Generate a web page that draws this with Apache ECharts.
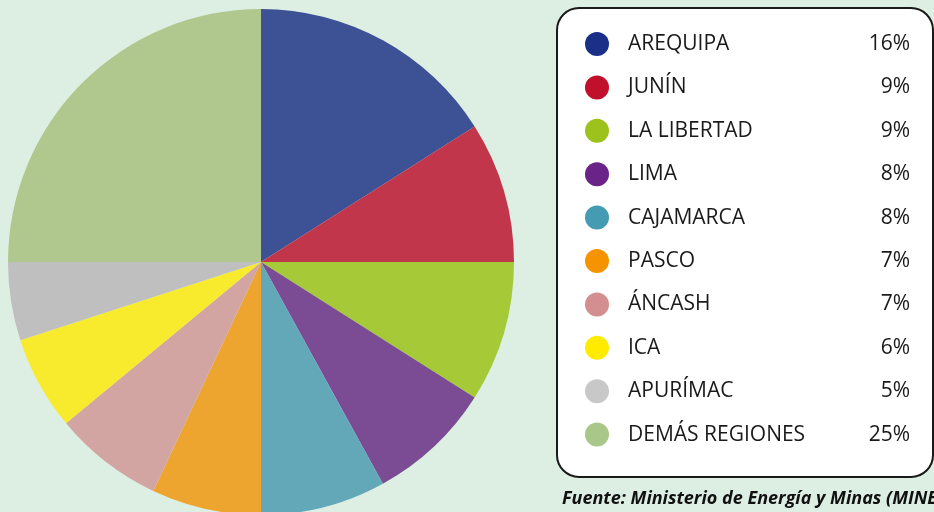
<!DOCTYPE html>
<html>
<head>
<meta charset="utf-8">
<script src="https://cdn.jsdelivr.net/npm/echarts@6/dist/echarts.min.js"></script>
<style>
	html, body { margin: 0; padding: 0; background: #ddeee3; }
	#chart { width: 934px; height: 512px; }
</style>
</head>
<body>
<div id="chart"></div>
<script>
	// regiones y participación (%)
	const regions = ["AREQUIPA", "JUNÍN", "LA LIBERTAD", "LIMA", "CAJAMARCA", "PASCO", "ÁNCASH", "ICA", "APURÍMAC", "DEMÁS REGIONES"];
	const shares = [16, 9, 9, 8, 8, 7, 7, 6, 5, 25];
	// colores de la torta y de los puntos de la leyenda
	const sliceColors = ["#3d5195", "#c1364b", "#a6c937", "#7b4b94", "#62a8b9", "#eea52f", "#d3a5a2", "#f8ea2d", "#bfbfbf", "#b0c78e"];
	const dotColors = ["#1a2f87", "#c0102c", "#9cc21b", "#6a2386", "#459bb2", "#f59300", "#d38f90", "#ffeb00", "#c8c8c8", "#aac78a"];
	const source = "Fuente: Ministerio de Energía y Minas (MINEM)";

	const chart = echarts.init(document.getElementById("chart"));

	const pieData = regions.map((name, i) => ({
		name: name,
		value: shares[i],
		itemStyle: { color: sliceColors[i] },
	}));

	const legendData = regions.map((name, i) => ({
		name: name,
		icon: "circle",
		itemStyle: { color: dotColors[i] },
	}));

	const pctByName = {};
	regions.forEach((name, i) => { pctByName[name] = shares[i]; });

	chart.setOption({
		backgroundColor: "#ddeee3",
		animation: false,
		graphic: [
			{
				type: "rect",
				z: 0,
				shape: { x: 557, y: 8, width: 376, height: 469, r: 22 },
				style: { fill: "#ffffff", stroke: "#1a1a1a", lineWidth: 2 },
			},
			{
				type: "text",
				z: 5,
				left: 562,
				top: 490,
				style: {
					text: source,
					fill: "#111111",
					font: "italic bold 18px 'Open Sans'",
				},
			},
		],
		legend: {
			orient: "vertical",
			left: 580,
			top: 27,
			itemWidth: 24,
			itemHeight: 24,
			itemGap: 19.4,
			selectedMode: false,
			data: legendData,
			formatter: (name) => `{n|${name}}{p|${pctByName[name]}%}`,
			textStyle: {
				rich: {
					n: { fontFamily: "Open Sans", fontSize: 21, color: "#1a1a1a", width: 238, lineHeight: 24, padding: [0, 0, 0, 14] },
					p: { fontFamily: "Open Sans", fontSize: 21, color: "#1a1a1a", width: 44, align: "right", lineHeight: 24 },
				},
			},
		},
		series: [
			{
				type: "pie",
				center: [261, 262],
				radius: 253,
				startAngle: 90,
				clockwise: true,
				label: { show: false },
				labelLine: { show: false },
				emphasis: { disabled: true },
				data: pieData,
			},
		],
	});
</script>
</body>
</html>
